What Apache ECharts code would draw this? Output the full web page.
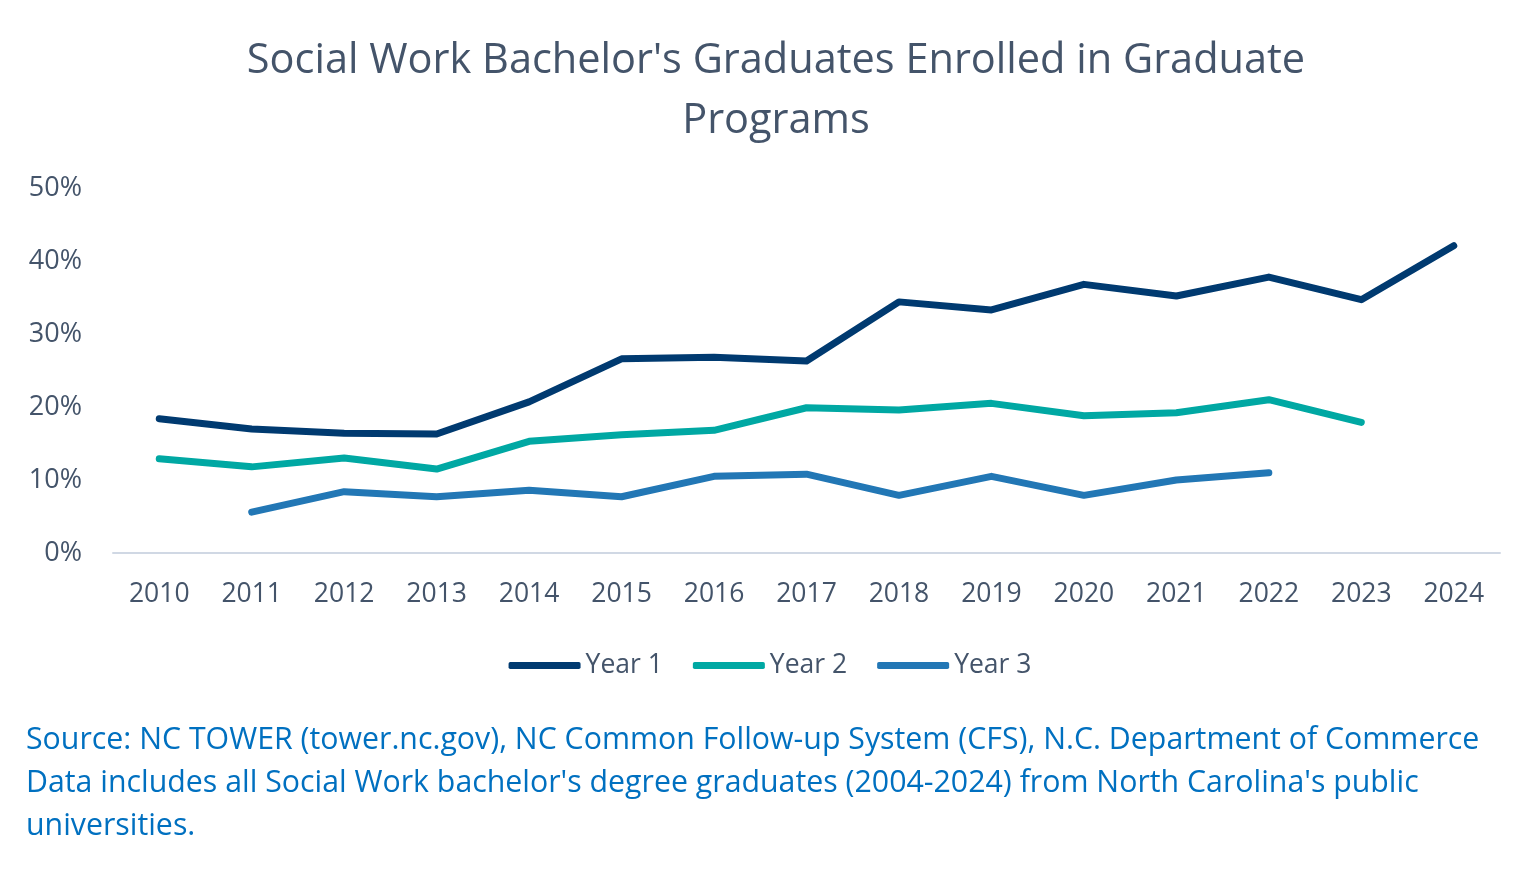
<!DOCTYPE html>
<html>
<head>
<meta charset="utf-8">
<script src="https://cdn.jsdelivr.net/npm/echarts@6/dist/echarts.min.js"></script>
<style>
html,body{margin:0;padding:0;background:#fff;}
#chart{width:1540px;height:879px;}
</style>
</head>
<body>
<div id="chart"></div>
<script>
const years = ['2010','2011','2012','2013','2014','2015','2016','2017','2018','2019','2020','2021','2022','2023','2024'];
const year1 = [18.4, 17.0, 16.4, 16.3, 20.7, 26.6, 26.8, 26.3, 34.4, 33.3, 36.8, 35.2, 37.8, 34.7, 42.1];
const year2 = [12.9, 11.8, 13.0, 11.5, 15.3, 16.2, 16.8, 19.9, 19.6, 20.5, 18.8, 19.2, 21.0, 17.9, null];
const year3 = [null, 5.6, 8.4, 7.7, 8.6, 7.7, 10.5, 10.8, 7.9, 10.5, 7.9, 10.0, 11.0, null, null];
const yTicks = [0, 10, 20, 30, 40, 50];
const titleText = "Social Work Bachelor's Graduates Enrolled in Graduate\nPrograms";
const sourceText = "Source: NC TOWER (tower.nc.gov), NC Common Follow-up System (CFS), N.C. Department of Commerce\nData includes all Social Work bachelor's degree graduates (2004-2024) from North Carolina's public\nuniversities.";

const FONT = '"Open Sans", Lato, sans-serif';
const TEXT = '#44546A';
const chart = echarts.init(document.getElementById('chart'));
const mk = (name, data, color) => ({
  name, type: 'line', data, symbol: 'none', smooth: false,
  lineStyle: {width: 7, color, cap: 'round', join: 'round'},
  itemStyle: {color}, connectNulls: false
});
chart.setOption({
  backgroundColor: '#fff',
  animation: false,
  title: [{
    text: titleText, left: 771, top: 26,
    textAlign: 'center',
    textStyle: {fontFamily: FONT, fontSize: 41.5, fontWeight: 'normal', color: TEXT, lineHeight: 60}
  }, {
    text: sourceText, left: 21, top: 714,
    textStyle: {fontFamily: FONT, fontSize: 30.3, fontWeight: 'normal', color: '#0070C0', lineHeight: 43}
  }],
  legend: {
    data: ['Year 1', 'Year 2', 'Year 3'],
    left: 'center', top: 647, itemGap: 30, itemWidth: 72, itemHeight: 7,
    icon: 'roundRect',
    textStyle: {fontFamily: FONT, fontSize: 26.5, color: TEXT}
  },
  grid: {left: 113, right: 40, top: 188, bottom: 326, containLabel: false},
  xAxis: {
    type: 'category', data: years, boundaryGap: true,
    axisLine: {show: true, lineStyle: {color: '#D0D8E4', width: 2}},
    axisTick: {show: false},
    axisLabel: {fontFamily: FONT, fontSize: 26.5, color: TEXT, margin: 28}
  },
  yAxis: {
    type: 'value', min: yTicks[0], max: yTicks[yTicks.length-1], interval: 10,
    axisLine: {show: false}, axisTick: {show: false},
    splitLine: {show: false},
    axisLabel: {fontFamily: FONT, fontSize: 27, color: TEXT, margin: 31, formatter: v => v + '%'}
  },
  series: [
    mk('Year 1', year1, '#003A70'),
    mk('Year 2', year2, '#00A8A3'),
    mk('Year 3', year3, '#2277B5')
  ]
});
</script>
</body>
</html>
